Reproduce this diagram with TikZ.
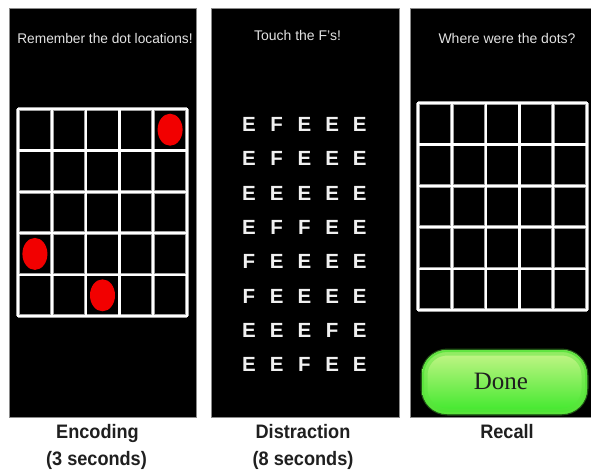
\documentclass[tikz,border=0pt]{standalone}
\usepackage{graphicx}
\usepackage{fontspec}
\setmainfont{Liberation Sans}
\newfontfamily\donefont{Liberation Serif}
\definecolor{panelline}{HTML}{8A8A8A}
\definecolor{titletext}{HTML}{E2E2E2}
\definecolor{lettertext}{HTML}{F0F0F0}
\definecolor{dotred}{HTML}{F20000}
\definecolor{btntop}{HTML}{C8F58A}
\definecolor{btnmid}{HTML}{FFFFB4}
\definecolor{btnbot}{HTML}{3CE82A}
\definecolor{btnedge}{HTML}{5AE43C}
\definecolor{btnshadow}{HTML}{2A6A1C}
\begin{document}
\begin{tikzpicture}[x=1pt,y=-1pt,
  panel/.style={fill=black, draw=panelline, line width=0.8pt, inner sep=0pt, anchor=north west},
  gridhalo/.style={draw=gray!75, line width=3.6pt},
  gridwhite/.style={draw=white, line width=2.2pt},
  title/.style={text=titletext, anchor=base, inner sep=0pt, font=\fontsize{14}{14}\selectfont},
  letter/.style={text=lettertext, anchor=base, inner sep=0pt, font=\bfseries\fontsize{20.5}{20.5}\selectfont},
  caption/.style={text=black!88, anchor=base, inner sep=0pt, font=\bfseries\fontsize{19.5}{19.5}\selectfont},
  dot/.style={fill=dotred}]
\useasboundingbox (0,0) rectangle (591,472);
\fill[white] (0,0) rectangle (591,472);

% panels
\node[panel, minimum width=187pt, minimum height=409pt] (enc) at (9,8) {};
\node[panel, minimum width=188pt, minimum height=409pt] (dis) at (211,8) {};
\node[panel, minimum width=181pt, minimum height=409pt] (rec) at (409.5,8) {};

% titles
\node[title] (t1) at (105,43.5) {\scalebox{0.98}[1]{Remember the dot locations!}};
\node[title] (t2) at (297.5,40) {Touch the F's!};
\node[title] (t3) at (507,43) {Where were the dots?};

% encoding grid
\foreach \i in {0,...,5} {
  \draw[gridhalo] ({18+\i*33.8},109) -- ({18+\i*33.8},316);
  \draw[gridhalo] (18,{109+\i*41.4}) -- (187,{109+\i*41.4});
}
\foreach \i in {0,...,5} {
  \draw[gridwhite] ({18+\i*33.8},109) -- ({18+\i*33.8},316);
  \draw[gridwhite] (18,{109+\i*41.4}) -- (187,{109+\i*41.4});
}
\draw[gridwhite, line cap=rect] (18,109) rectangle (187,316);

% dots
\fill[dot] ({18+4.5*33.8},{109+0.5*41.4}) ellipse [x radius=12.5, y radius=16];
\fill[dot] ({18+0.5*33.8},{109+3.5*41.4}) ellipse [x radius=12.5, y radius=16];
\fill[dot] ({18+2.5*33.8},{109+4.5*41.4}) ellipse [x radius=12.5, y radius=16];

% letters
\foreach \row [count=\r from 0] in {{E,F,E,E,E},{E,F,E,E,E},{E,E,E,E,E},{E,F,F,E,E},{F,E,E,E,E},{F,E,E,E,E},{E,E,E,F,E},{E,E,F,E,E}} {
  \foreach \ch [count=\c from 0] in \row {
    \node[letter] (L\r\c) at ({249+\c*27.7},{131.5+\r*34.3}) {\ch};
  }
}

% recall grid
\foreach \i in {0,...,5} {
  \draw[gridhalo] ({418+\i*33.8},103) -- ({418+\i*33.8},310);
  \draw[gridhalo] (418,{103+\i*41.4}) -- (587,{103+\i*41.4});
}
\foreach \i in {0,...,5} {
  \draw[gridwhite] ({418+\i*33.8},103) -- ({418+\i*33.8},310);
  \draw[gridwhite] (418,{103+\i*41.4}) -- (587,{103+\i*41.4});
}
\draw[gridwhite, line cap=rect] (418,103) rectangle (587,310);

% done button
\fill[btnshadow, opacity=0.8, rounded corners=27pt] (420.5,348.5) rectangle (588.5,415.5);
\shade[rounded corners=25pt, top color=btntop, middle color=btnmid, bottom color=btnbot] (422,350) rectangle (587,414);
\draw[btnedge, line width=5pt, opacity=0.45, rounded corners=22pt] (425,353) rectangle (584,411);
\draw[btnedge, line width=2pt, opacity=0.9, rounded corners=24pt] (423,351) rectangle (586,413);
\node[anchor=base, inner sep=0pt, text=black!88, font=\donefont\fontsize{25}{25}\selectfont] (done) at (501,389) {Done};

% captions
\node[caption] (c1) at (97.5,438) {\scalebox{0.93}[1]{Encoding}};
\node[caption] (c2) at (96.5,465) {\scalebox{0.93}[1]{(3 seconds)}};
\node[caption] (c3) at (303,438) {\scalebox{0.93}[1]{Distraction}};
\node[caption] (c4) at (303,465) {\scalebox{0.93}[1]{(8 seconds)}};
\node[caption] (c5) at (507,438) {\scalebox{0.93}[1]{Recall}};
\end{tikzpicture}
\end{document}
